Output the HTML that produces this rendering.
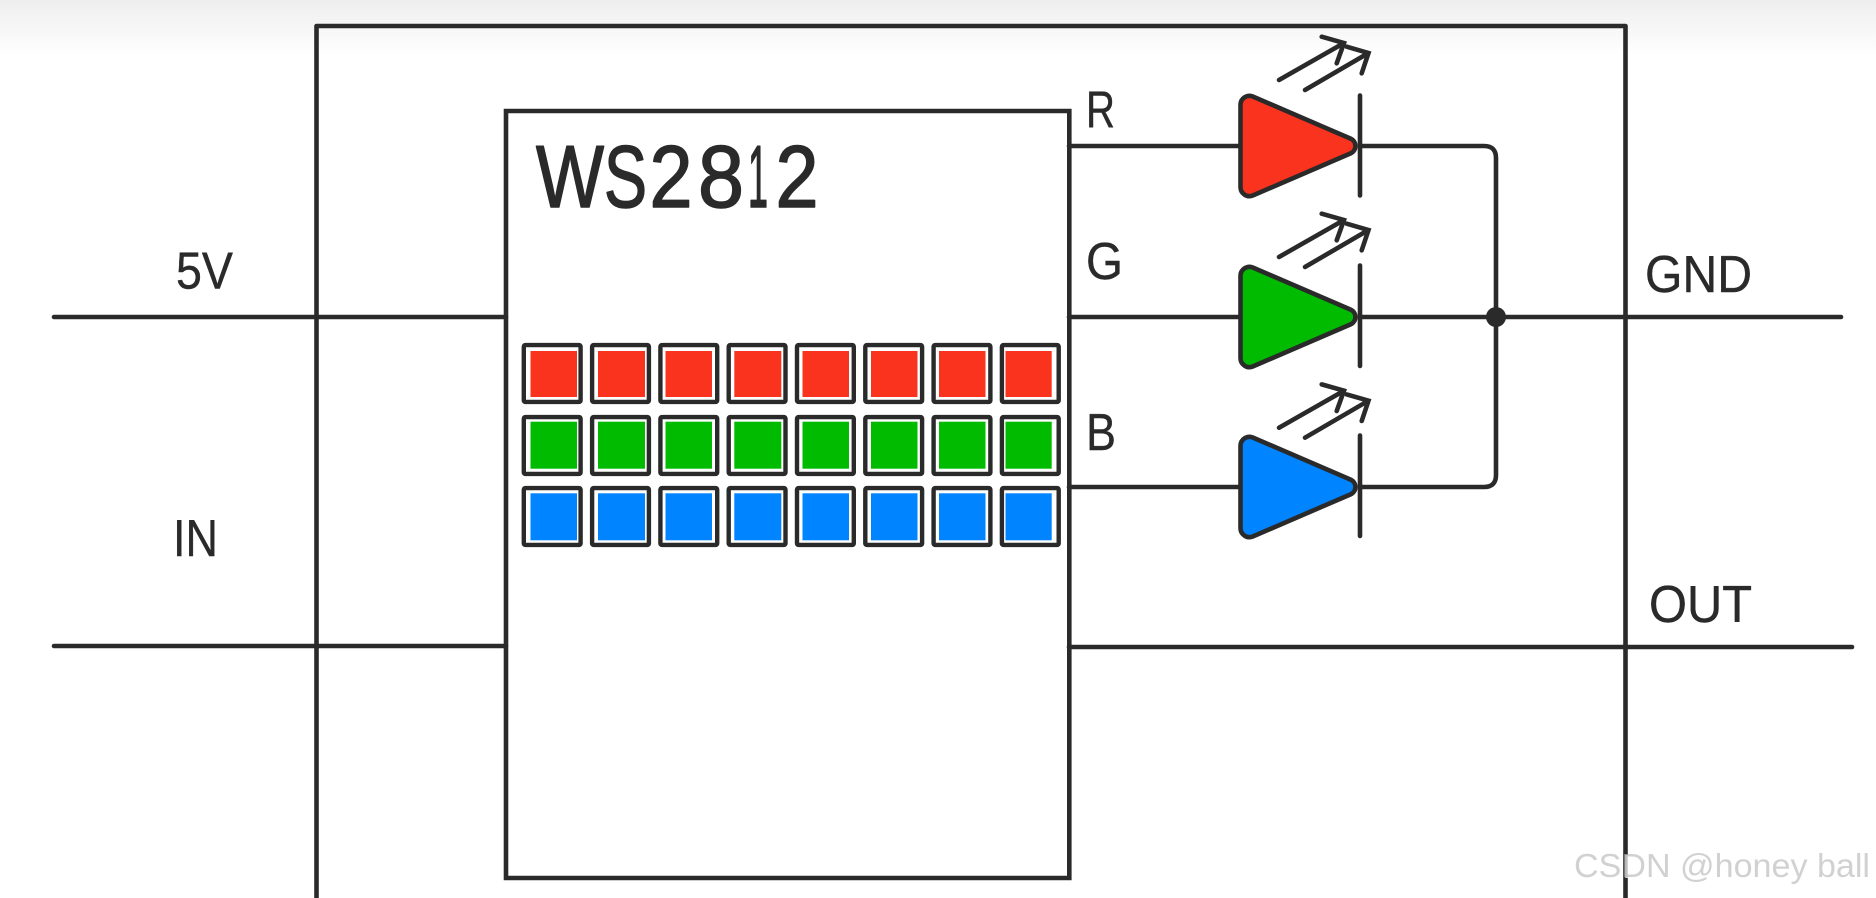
<!DOCTYPE html>
<html lang="en">
<head>
<meta charset="utf-8">
<title>WS2812</title>
<style>
html,body{margin:0;padding:0;background:#fff;width:1876px;height:898px;overflow:hidden}
svg{display:block;position:absolute;left:0;top:0}
text{font-family:"Liberation Sans",sans-serif;fill:#2a2a2a}
.l{font-size:52px;stroke:#2a2a2a;stroke-width:.4;stroke-linejoin:round}
.t{font-size:88px;stroke:#2a2a2a;stroke-width:1.6;stroke-linejoin:round}
.c{fill:#fff;stroke:#2a2a2a;stroke-width:4.4}
.r{fill:#f9331e}.g{fill:#00bb00}.b{fill:#0084ff}
</style>
</head>
<body>
<svg width="1876" height="898" viewBox="0 0 1876 898" xmlns="http://www.w3.org/2000/svg">
<defs>
<linearGradient id="top" x1="0" y1="0" x2="0" y2="1"><stop offset="0" stop-color="#eeeeee"/><stop offset="1" stop-color="#ffffff"/></linearGradient>
<rect id="cell" class="c" width="56.8" height="56.8" rx="1.5"/>
<path id="tri" d="M1240.5 104.85A9 9 0 0 1 1253.06 96.6L1350.6 138.66A8 8 0 0 1 1350.6 153.34L1253.06 195.4A9 9 0 0 1 1240.5 187.15Z" stroke="#2a2a2a" stroke-width="4.6" stroke-linejoin="round"/>
<g id="arr" fill="none" stroke="#2a2a2a" stroke-width="4.6" stroke-linecap="round" stroke-linejoin="miter">
<path d="M1279 80L1344 43M1321.7 36.7L1344 43L1336.7 63.3"/>
<path d="M1305 90L1368.5 53M1346.7 46.7L1368.5 53L1361.7 73.3"/>
</g>
</defs>
<rect width="1876" height="898" fill="#fff"/>
<rect width="1876" height="56" fill="url(#top)"/>

<g fill="none" stroke="#2a2a2a" stroke-width="4.6" stroke-linecap="round" stroke-linejoin="round">
<path d="M316.5 910V26H1625.5V910"/>
<path d="M506 111H1069.3V878H506Z" stroke-linejoin="miter"/>
<path d="M54 317H506M54 646H506"/>
<path d="M1069 146H1241M1069 317H1241M1069 487H1241"/>
<path d="M1360 146H1484Q1496 146 1496 158V475Q1496 487 1484 487H1360"/>
<path d="M1360 317H1841"/>
<path d="M1069 647H1852"/>
<path d="M1360 95.5V195.5M1360 265.5V366M1360 435.5V536"/>
</g>
<circle cx="1496" cy="317" r="10" fill="#2a2a2a"/>

<use href="#tri" class="r"/>
<use href="#tri" class="g" y="171"/>
<use href="#tri" class="b" y="341"/>
<use href="#arr"/>
<use href="#arr" y="177"/>
<use href="#arr" y="347.7"/>

<!-- LED matrix -->
<g>
<use href="#cell" x="523.8" y="345.1"/><use href="#cell" x="592.1" y="345.1"/><use href="#cell" x="660.4" y="345.1"/><use href="#cell" x="728.7" y="345.1"/><use href="#cell" x="797" y="345.1"/><use href="#cell" x="865.3" y="345.1"/><use href="#cell" x="933.6" y="345.1"/><use href="#cell" x="1001.9" y="345.1"/>
<use href="#cell" x="523.8" y="417.1"/><use href="#cell" x="592.1" y="417.1"/><use href="#cell" x="660.4" y="417.1"/><use href="#cell" x="728.7" y="417.1"/><use href="#cell" x="797" y="417.1"/><use href="#cell" x="865.3" y="417.1"/><use href="#cell" x="933.6" y="417.1"/><use href="#cell" x="1001.9" y="417.1"/>
<use href="#cell" x="523.8" y="488.1"/><use href="#cell" x="592.1" y="488.1"/><use href="#cell" x="660.4" y="488.1"/><use href="#cell" x="728.7" y="488.1"/><use href="#cell" x="797" y="488.1"/><use href="#cell" x="865.3" y="488.1"/><use href="#cell" x="933.6" y="488.1"/><use href="#cell" x="1001.9" y="488.1"/>
</g>
<g class="r">
<rect x="530.5" y="351" width="46.5" height="46"/><rect x="598" y="351" width="47" height="46"/><rect x="665.5" y="351" width="46.5" height="46"/><rect x="734.3" y="351" width="47" height="46"/><rect x="802.5" y="351" width="46.5" height="46"/><rect x="871" y="351" width="46.5" height="46"/><rect x="939" y="351" width="46.5" height="46"/><rect x="1005.5" y="351" width="46.2" height="46"/>
</g>
<g class="g">
<rect x="530.5" y="421.7" width="46.5" height="47"/><rect x="598" y="421.7" width="47" height="47"/><rect x="665.5" y="421.7" width="46.5" height="47"/><rect x="734.3" y="421.7" width="47" height="47"/><rect x="802.5" y="421.7" width="46.5" height="47"/><rect x="871" y="421.7" width="46.5" height="47"/><rect x="939" y="421.7" width="46.5" height="47"/><rect x="1005.5" y="421.7" width="46.2" height="47"/>
</g>
<g class="b">
<rect x="530.5" y="493.3" width="46.5" height="47"/><rect x="598" y="493.3" width="47" height="47"/><rect x="665.5" y="493.3" width="46.5" height="47"/><rect x="734.3" y="493.3" width="47" height="47"/><rect x="802.5" y="493.3" width="46.5" height="47"/><rect x="871" y="493.3" width="46.5" height="47"/><rect x="939" y="493.3" width="46.5" height="47"/><rect x="1005.5" y="493.3" width="46.2" height="47"/>
</g>

<!-- Labels -->
<text class="t" x="536" y="207" textLength="68" lengthAdjust="spacingAndGlyphs">W</text>
<text class="t" x="604" y="207" textLength="43" lengthAdjust="spacingAndGlyphs">S</text>
<text class="t" x="649.5" y="207" textLength="43" lengthAdjust="spacingAndGlyphs">2</text>
<text class="t" x="698" y="207" textLength="46" lengthAdjust="spacingAndGlyphs">8</text>
<text class="t" x="748" y="207" textLength="20" lengthAdjust="spacingAndGlyphs">1</text>
<text class="t" x="775.5" y="207" textLength="43" lengthAdjust="spacingAndGlyphs">2</text>
<text class="l" x="176" y="288.5" textLength="57" lengthAdjust="spacingAndGlyphs">5V</text>
<text class="l" x="173" y="556" textLength="45" lengthAdjust="spacingAndGlyphs">IN</text>
<text class="l" x="1086" y="127.5" textLength="29" lengthAdjust="spacingAndGlyphs">R</text>
<text class="l" x="1086" y="279" textLength="37" lengthAdjust="spacingAndGlyphs">G</text>
<text class="l" x="1086" y="450" textLength="30" lengthAdjust="spacingAndGlyphs">B</text>
<text class="l" x="1645" y="292" textLength="107" lengthAdjust="spacingAndGlyphs">GND</text>
<text class="l" x="1649" y="622" textLength="103" lengthAdjust="spacingAndGlyphs">OUT</text>

<!-- Watermark -->
<text x="1575" y="878" font-size="33" textLength="296" lengthAdjust="spacingAndGlyphs" style="fill:#ffffff;fill-opacity:.75">CSDN @honey ball</text>
<text x="1574" y="877" font-size="33" textLength="296" lengthAdjust="spacingAndGlyphs" style="fill:#b8b8b8;fill-opacity:.65">CSDN @honey ball</text>
</svg>
</body>
</html>
